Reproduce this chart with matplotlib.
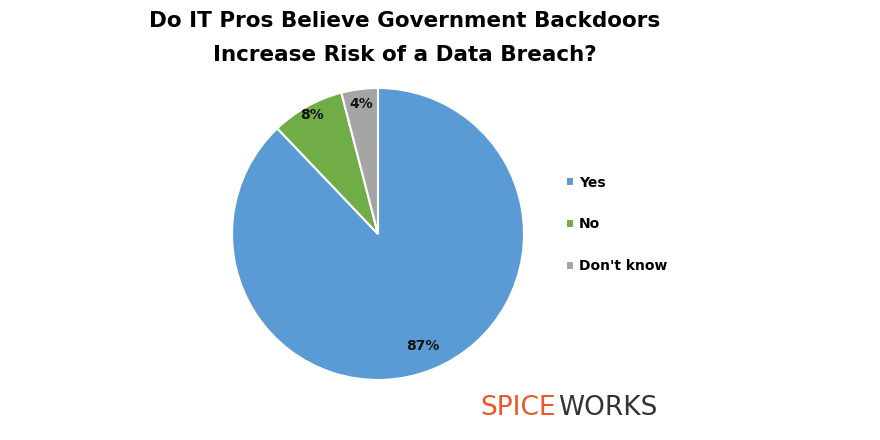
import numpy as np
import matplotlib
matplotlib.use('Agg')
import matplotlib.pyplot as plt

labels = ['Yes', 'No', "Don't know"]
values = [87, 8, 4]
colors = ['#5B9BD5', '#70AD47', '#A5A5A5']
label_dist = [0.83, 0.93, 0.90]

title = 'Do IT Pros Believe Government Backdoors\nIncrease Risk of a Data Breach?'

fig = plt.figure(figsize=(8.8, 4.4), dpi=100)
fig.patch.set_facecolor('white')

# pie area: centre ~(378, 234) px, radius ~146 px
ax = fig.add_axes([(378 - 146) / 880, (440 - 380) / 440, 292 / 880, 292 / 440])
wedges, _ = ax.pie(values, colors=colors, startangle=90, counterclock=False,
                   wedgeprops=dict(edgecolor='white', linewidth=1.5))
ax.set_xlim(-1, 1)
ax.set_ylim(-1, 1)
ax.set_aspect('equal')

for w, v, d in zip(wedges, values, label_dist):
    ang = np.deg2rad((w.theta1 + w.theta2) / 2)
    ax.text(d * np.cos(ang), d * np.sin(ang), f'{v}%', ha='center', va='center',
            fontsize=10, fontweight='bold', color='#111111')

fig.text(405 / 880, 1 - 11 / 440, title, ha='center', va='top', fontsize=15.5,
         fontweight='bold', color='black', linespacing=1.85)

fig.legend(wedges, labels, loc='center left', bbox_to_anchor=(0.629, 0.49),
           frameon=False, handlelength=0.6, handleheight=0.6, handletextpad=0.35,
           labelspacing=2.0, prop=dict(size=10, weight='bold'))

fig.text(556 / 880, 1 - 408 / 440, 'SPICE', ha='right', va='center', fontsize=19,
         color='#E8582A', family='DejaVu Sans')
fig.text(558 / 880, 1 - 408 / 440, 'WORKS', ha='left', va='center', fontsize=19,
         color='#333333', family='DejaVu Sans')

fig.savefig('out.png', dpi=100, facecolor='white')
